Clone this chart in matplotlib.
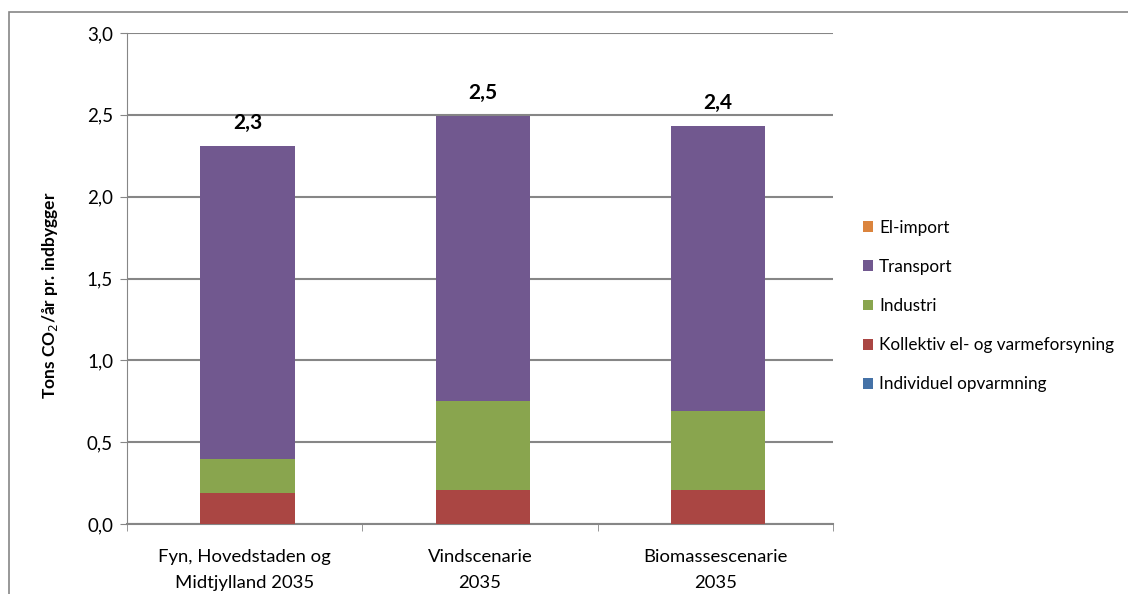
import numpy as np
import matplotlib.pyplot as plt
from matplotlib.patches import Rectangle

plt.rcParams['font.family'] = ['Lato', 'DejaVu Sans']

# --- Data ---
kategorier = ["Fyn, Hovedstaden og\nMidtjylland 2035", "Vindscenarie\n2035", "Biomassescenarie\n2035"]
individuel = [0.0, 0.0, 0.0]
kollektiv = [0.19, 0.21, 0.21]
industri = [0.21, 0.54, 0.48]
transport = [1.91, 1.74, 1.74]
el_import = [0.0, 0.0, 0.0]
total_labels = ["2,3", "2,5", "2,4"]

serier = [
    ("Individuel opvarmning", individuel, "#4572A7"),
    ("Kollektiv el- og varmeforsyning", kollektiv, "#AA4643"),
    ("Industri", industri, "#89A54E"),
    ("Transport", transport, "#71588F"),
    ("El-import", el_import, "#DB843D"),
]

fig = plt.figure(figsize=(11.28, 5.94), dpi=100)
ax = fig.add_axes([0.1126, 0.1178, 0.6259, 0.8266])

# ramme om diagrammet
fig.patches.append(Rectangle((9 / 1128, -0.1), 1.2, (594 - 12) / 594 + 0.1,
                             transform=fig.transFigure, fill=False,
                             edgecolor="#868686", linewidth=1.2))

x = np.arange(len(kategorier))
bund = np.zeros(len(kategorier))
handles = []
for navn, vaerdier, farve in serier:
    b = ax.bar(x + 0.012, vaerdier, width=0.4, bottom=bund, color=farve, label=navn, zorder=3)
    handles.append(b)
    bund += np.array(vaerdier)

for xi, tot, lab in zip(x, bund, total_labels):
    ax.text(xi + 0.012, tot + 0.08, lab, ha="center", va="bottom", fontsize=15, fontweight="bold")

ax.set_xlim(-0.5, 2.5)
ax.set_ylim(0, 3.0)
ax.set_yticks(np.arange(0, 3.01, 0.5))
ax.set_yticklabels([f"{v:.1f}".replace(".", ",") for v in np.arange(0, 3.01, 0.5)], fontsize=13.5)
ax.set_xticks(x)
ax.set_xticklabels(kategorier, fontsize=13.3, linespacing=1.75)
ax.set_xticks([-0.5, 0.5, 1.5, 2.5], minor=True)
ax.tick_params(axis="x", which="major", length=0, pad=18)
ax.tick_params(axis="x", which="minor", length=5, color="#868686")
ax.tick_params(axis="y", length=5, color="#868686", pad=5)

ax.grid(axis="y", color="#868686", linewidth=1.5, zorder=0)
for s in ["top", "right"]:
    ax.spines[s].set_visible(False)
for s in ["left", "bottom"]:
    ax.spines[s].set_color("#868686")
ax.spines["bottom"].set_linewidth(1.5)

ax.set_ylabel("Tons CO$_2$/år pr. indbygger", fontsize=12.5, fontweight="bold")
ax.yaxis.set_label_coords(-0.095, 0.466)

leg = fig.legend(handles[::-1], [s[0] for s in serier][::-1], loc="center left",
                 bbox_to_anchor=(863 / 1128, 1 - 306 / 594), frameon=False, fontsize=12.3,
                 borderpad=0, borderaxespad=0,
                 handlelength=0.6, handleheight=0.6, labelspacing=1.36, handletextpad=0.35)

fig.savefig("out.png", dpi=100)
